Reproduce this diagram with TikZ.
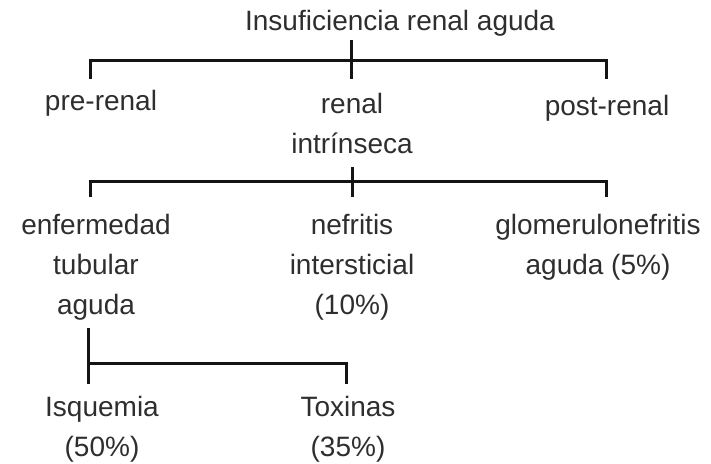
\documentclass[tikz,border=0pt]{standalone}
\usepackage{fontspec}
\setmainfont{Liberation Sans}
\begin{document}
\begin{tikzpicture}[x=1pt,y=-1pt,
  lbl/.style={text=black!82, font=\fontsize{28}{40}\selectfont, align=center, inner sep=0pt},
  bar/.style={draw=black!92, line width=3pt, line cap=butt, line join=miter}]
\useasboundingbox (0,0) rectangle (711,463);
% labels
\node[lbl] (root) at (400,23) {Insuficiencia renal aguda};
\node[lbl] (pre) at (101,103) {pre-renal};
\node[lbl] (ren) at (352,123) {renal\\intrínseca};
\node[lbl] (post) at (607,108) {post-renal};
\node[lbl] (tub) at (96,267) {enfermedad\\tubular\\aguda};
\node[lbl] (nef) at (352,267) {nefritis\\intersticial\\(10\%)};
\node[lbl] (glo) at (598,247) {glomerulonefritis\\aguda (5\%)};
\node[lbl] (isq) at (102,429) {Isquemia\\(50\%)};
\node[lbl] (tox) at (348,429) {Toxinas\\(35\%)};
% connector points
\coordinate (a0) at (351,40);
\coordinate (a1) at (351,79);
\coordinate (aL) at (90,79);
\coordinate (aR) at (606,79);
\coordinate (aH) at (351,60);
\coordinate (b0) at (352,167);
\coordinate (b1) at (352,197);
\coordinate (bL) at (90,197);
\coordinate (bR) at (606,197);
\coordinate (bH) at (352,181);
\coordinate (c0) at (88,328);
\coordinate (cL) at (88,384);
\coordinate (cR) at (346,384);
\coordinate (cH) at (88,363);
% brackets
\draw[bar] (a0) -- (a1);
\draw[bar] (aL) |- (aH) -| (aR);
\draw[bar] (b0) -- (b1);
\draw[bar] (bL) |- (bH) -| (bR);
\draw[bar] (c0) -- (cL);
\draw[bar] (cH) -| (cR);
\end{tikzpicture}
\end{document}
